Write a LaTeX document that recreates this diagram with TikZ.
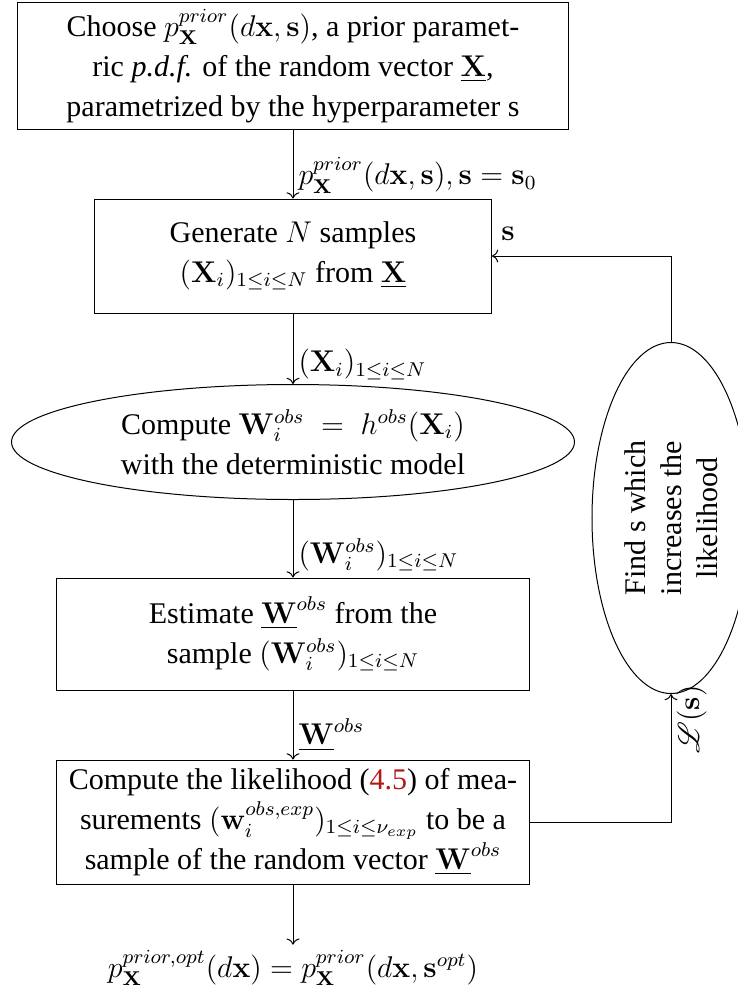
\documentclass[tikz,border=0pt]{standalone}
\usepackage{amsmath,amssymb}
\usepackage{mathrsfs}
\usepackage[no-math]{fontspec}
\setmainfont{Liberation Serif}
\newfontfamily\serifface{Liberation Serif}
\usepackage{xcolor}
\usetikzlibrary{shapes.geometric,arrows.meta,positioning,calc}
\definecolor{refred}{rgb}{0.7,0.1,0.1}

\begin{document}
\begin{tikzpicture}[
  x=0.4pt, y=-0.4pt,
  font=\serifface\fontsize{12}{16}\selectfont,
  blockbox/.style={draw, align=center, inner sep=2pt},
  ellbox/.style={draw, ellipse, align=center, inner sep=0pt},
  ar/.style={->, line width=0.4pt},
  lbl/.style={inner sep=2pt}
]
  \useasboundingbox (0,0) rectangle (738,996);
  % main column
  \node[blockbox, minimum width=220pt, minimum height=50.8pt] (choose) at (293,66)
    {Choose $p^{prior}_{\mathbf{X}}(d\mathbf{x},\mathbf{s})$, a prior paramet-\\
     ric \textit{p.d.f.} of the random vector $\underline{\mathbf{X}}$,\\
     parametrized by the hyperparameter s};
  \node[blockbox, minimum width=158.8pt, minimum height=45.6pt] (gen) at (293,256)
    {Generate $N$ samples\\
     $(\mathbf{X}_i)_{1\leq i\leq N}$ from $\underline{\mathbf{X}}$};
  \node[ellbox, minimum width=225.2pt, minimum height=46pt] (model) at (293,442)
    {Compute $\mathbf{W}_i^{obs} \;=\; h^{obs}(\mathbf{X}_i)$\\
     with the deterministic model};
  \node[blockbox, minimum width=188.8pt, minimum height=44.8pt] (est) at (293,634)
    {Estimate $\underline{\mathbf{W}}^{obs}$ from the\\
     sample $(\mathbf{W}_i^{obs})_{1\leq i\leq N}$};
  \node[blockbox, minimum width=189.2pt, minimum height=49.6pt] (lik) at (293,822)
    {Compute the likelihood (\textcolor{refred}{4.5}) of mea-\\
     surements $(\mathbf{w}_i^{obs,exp})_{1\leq i\leq \nu_{exp}}$ to be a\\
     sample of the random vector $\underline{\mathbf{W}}^{obs}$};
  \node[inner sep=2pt] (opt) at (293,968)
    {$p^{prior,opt}_{\mathbf{X}}(d\mathbf{x}) = p^{prior}_{\mathbf{X}}(d\mathbf{x},\mathbf{s}^{opt})$};
  % feedback loop
  \node[ellbox, rotate=90, minimum width=140.4pt, minimum height=63.2pt,
        font=\serifface\fontsize{12}{14.5}\selectfont] (find) at (671,518)
    {Find s which\\increases the\\likelihood};

  \draw[ar] (choose) -- (gen)
    node[lbl, pos=0.66, right] {$p^{prior}_{\mathbf{X}}(d\mathbf{x},\mathbf{s}), \mathbf{s} = \mathbf{s}_0$};
  \draw[ar] (gen) -- (model)
    node[lbl, pos=0.72, right] {$(\mathbf{X}_i)_{1\leq i\leq N}$};
  \draw[ar] (model) -- (est)
    node[lbl, pos=0.71, right] {$(\mathbf{W}_i^{obs})_{1\leq i\leq N}$};
  \draw[ar] (est) -- (lik)
    node[lbl, pos=0.64, right] {$\underline{\mathbf{W}}^{obs}$};
  \draw[ar] (lik) -- (opt);
  \draw[ar] (lik.east) -| (find.west)
    node[lbl, pos=0.9, rotate=90, anchor=north] {$\mathscr{L}(\mathbf{s})$};
  \draw[ar] (find.east) |- (gen.east)
    node[lbl, pos=0.955, above=4pt] {$\mathbf{s}$};
\end{tikzpicture}
\end{document}
